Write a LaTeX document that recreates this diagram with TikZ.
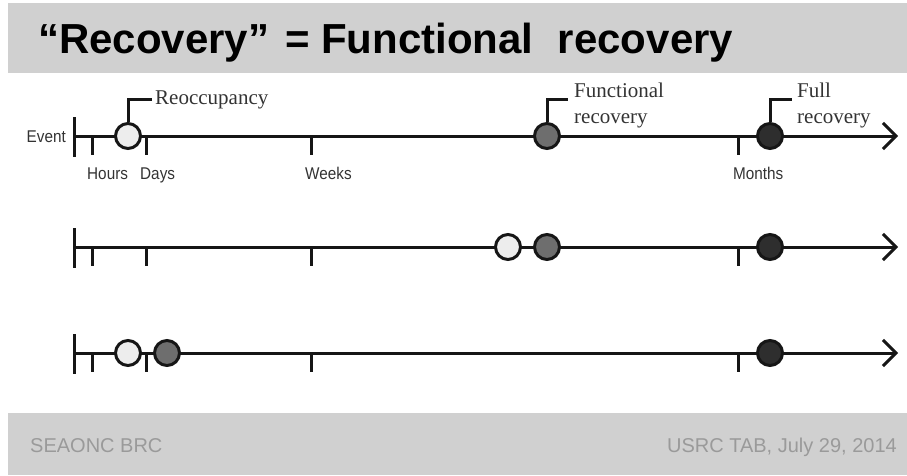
\documentclass[tikz,border=0pt]{standalone}
\usepackage{fontspec}
\setmainfont{Liberation Serif}
\setsansfont{Liberation Sans}
\newfontfamily\narrowsans[FakeStretch=0.9]{Liberation Sans}
\usetikzlibrary{positioning,arrows.meta}
\definecolor{bandgray}{HTML}{D0D0D0}
\definecolor{footgray}{HTML}{9A9A9A}
\definecolor{inkgray}{HTML}{161616}

\begin{document}
\begin{tikzpicture}[x=1pt, y=-1pt,
    band/.style={fill=bandgray, draw=none},
    axis/.style={draw=inkgray, line width=3pt, -{Straight Barb[length=13pt, width=26pt]}},
    tick/.style={draw=inkgray, line width=3pt},
    milestone/.style={circle, draw=inkgray, line width=3pt, minimum size=25pt, inner sep=0pt},
    open/.style={milestone, fill=black!7},
    partial/.style={milestone, fill=black!57},
    done/.style={milestone, fill=black!82},
    leader/.style={draw=inkgray, line width=3pt},
    callout/.style={font=\fontsize{21}{26}\selectfont, text=black!80, align=left, inner sep=0pt},
    scale label/.style={font=\narrowsans\fontsize{17}{17}\selectfont, text=black!80, inner sep=0pt},
    footer/.style={font=\sffamily\fontsize{20}{20}\selectfont, text=footgray, inner sep=0pt}
]
\useasboundingbox (0,0) rectangle (907,475);

\fill[band] (8,3) rectangle (907,73);
\fill[band] (8,413) rectangle (907,475);
\node[font=\sffamily\bfseries\fontsize{42}{42}\selectfont, anchor=base west, inner sep=0pt] (title) at (38,53) {“Recovery”\hspace{0.1em} = Functional\hspace{0.3em} recovery};

\foreach \ty [count=\r] in {136,247,353} {
  \coordinate (ev\r) at (74,\ty);
  \coordinate (end\r) at (898,\ty);
  \draw[tick] (74,\ty-19) -- (74,\ty+21);
  \foreach \tx in {92,146,311,738}
    \draw[tick] (\tx,\ty) -- (\tx,\ty+19);
  \draw[axis] (ev\r) -- (end\r);
}

\node[scale label, anchor=east] (event) at (66,137) {Event};
\node[scale label, anchor=base west] (hours) at (87,179) {Hours};
\node[scale label, anchor=base west] (days) at (140,179) {Days};
\node[scale label, anchor=base west] (weeks) at (305,179) {Weeks};
\node[scale label, anchor=base west] (months) at (733,179) {Months};

\node[open] (reocc) at (128,136) {};
\node[partial] (func) at (547,136) {};
\node[done] (full) at (770,136) {};

\node[open] (reocc2) at (508,247) {};
\node[partial] (func2) at (547,247) {};
\node[done] (full2) at (770,247) {};

\node[open] (reocc3) at (128,353) {};
\node[partial] (func3) at (167,353) {};
\node[done] (full3) at (770,353) {};

\coordinate (reoccbend) at (128,99);
\coordinate (funcbend) at (547,99);
\coordinate (fullbend) at (770,99);
\draw[leader] (reocc) -- (reoccbend) -- ++(24,0);
\draw[leader] (func) -- (funcbend) -- ++(21,0);
\draw[leader] (full) -- (fullbend) -- ++(22,0);
\node[callout, anchor=west] (reocclbl) at (155,100) {Reoccupancy};
\node[callout, anchor=west] (funclbl) at (574,105) {Functional\\recovery};
\node[callout, anchor=west] (fulllbl) at (797,105) {Full\\recovery};

\node[footer, anchor=base west] (org) at (30,452) {SEAONC BRC};
\node[footer, anchor=base east] (date) at (897,452) {USRC TAB, July 29, 2014};
\end{tikzpicture}
\end{document}
